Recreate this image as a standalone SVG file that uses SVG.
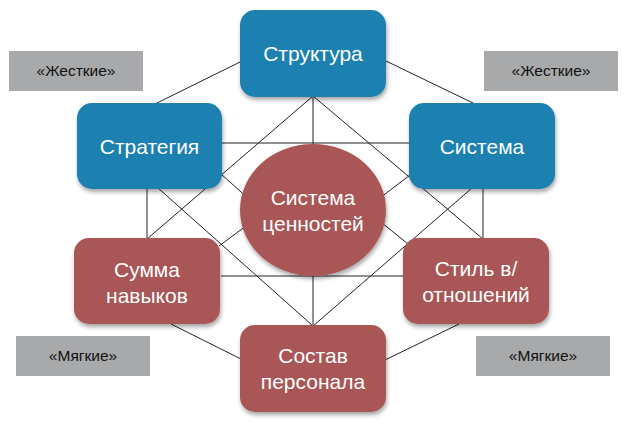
<svg xmlns="http://www.w3.org/2000/svg" width="627" height="424" viewBox="0 0 627 424">
<defs>
<filter id="sh" x="-10%" y="-10%" width="125%" height="130%">
<feGaussianBlur in="SourceAlpha" stdDeviation="2"/>
<feOffset dx="1" dy="3" result="b"/>
<feComponentTransfer><feFuncA type="linear" slope="0.35"/></feComponentTransfer>
<feMerge><feMergeNode/><feMergeNode in="SourceGraphic"/></feMerge>
</filter>
<style>
.blue{fill:#1f80b0;filter:url(#sh)}
.red{fill:#a95656;filter:url(#sh)}
.tag{fill:#a8a9ab}
.nt{fill:#ffffff;font-family:"Liberation Sans",Arial,sans-serif;font-size:21px;text-anchor:middle}
.tt{fill:#111111;font-family:"Liberation Sans",Arial,sans-serif;font-size:15.5px;text-anchor:middle}
.ln line{stroke:#222222;stroke-width:1}
</style>
</defs>
<rect width="627" height="424" fill="#ffffff"/>
<g id="tags">
<g id="tag-hard-left"><rect class="tag" x="9" y="51" width="134" height="40"/><text class="tt" x="76" y="76">«Жесткие»</text></g>
<g id="tag-hard-right"><rect class="tag" x="484" y="51" width="134" height="40"/><text class="tt" x="551" y="76">«Жесткие»</text></g>
<g id="tag-soft-left"><rect class="tag" x="16" y="336" width="134" height="40"/><text class="tt" x="83" y="361">«Мягкие»</text></g>
<g id="tag-soft-right"><rect class="tag" x="476" y="336" width="134" height="40"/><text class="tt" x="543" y="361">«Мягкие»</text></g>
</g>
<g id="connectors" class="ln">
<line x1="240" y1="62" x2="155" y2="104"/>
<line x1="386" y1="61" x2="475" y2="104"/>
<line x1="313" y1="96" x2="313" y2="326"/>
<line x1="313" y1="96" x2="147" y2="239"/>
<line x1="313" y1="96" x2="483" y2="239"/>
<line x1="221" y1="143" x2="410" y2="143"/>
<line x1="221" y1="276" x2="404" y2="276"/>
<line x1="147" y1="188" x2="147" y2="239"/>
<line x1="483" y1="188" x2="483" y2="239"/>
<line x1="158" y1="188" x2="313" y2="326"/>
<line x1="472" y1="188" x2="313" y2="326"/>
<line x1="221" y1="174" x2="250" y2="200"/>
<line x1="410" y1="175" x2="376" y2="201"/>
<line x1="219" y1="246" x2="250" y2="223"/>
<line x1="408" y1="244" x2="376" y2="218"/>
<line x1="171" y1="324" x2="241" y2="359"/>
<line x1="459" y1="324" x2="385" y2="360"/>
</g>
<g id="node-structure"><rect class="blue" x="240" y="10" width="146" height="87" rx="15"/><text class="nt" x="313" y="61">Структура</text></g>
<g id="node-strategy"><rect class="blue" x="77" y="103" width="145" height="86" rx="15"/><text class="nt" x="149.5" y="154">Стратегия</text></g>
<g id="node-system"><rect class="blue" x="409" y="103" width="146" height="86" rx="15"/><text class="nt" x="482" y="154">Система</text></g>
<g id="node-values"><ellipse class="red" cx="313" cy="210" rx="73" ry="66"/><text class="nt" x="313" y="205">Система</text><text class="nt" x="313" y="231">ценностей</text></g>
<g id="node-skills"><rect class="red" x="74" y="238" width="146" height="86" rx="15"/><text class="nt" x="147" y="277">Сумма</text><text class="nt" x="147" y="303">навыков</text></g>
<g id="node-style"><rect class="red" x="403" y="238" width="146" height="86" rx="15"/><text class="nt" x="476" y="276">Стиль в/</text><text class="nt" x="476" y="302">отношений</text></g>
<g id="node-staff"><rect class="red" x="240" y="325" width="146" height="87" rx="15"/><text class="nt" x="313" y="363">Состав</text><text class="nt" x="313" y="389">персонала</text></g>
</svg>
